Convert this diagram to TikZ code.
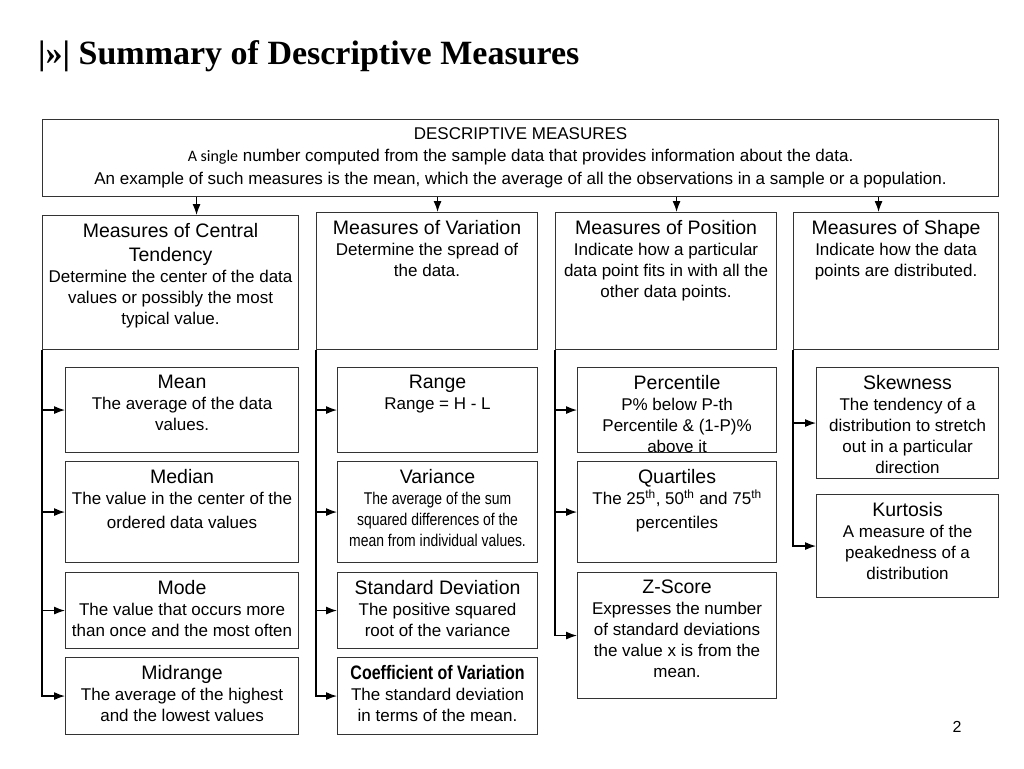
\documentclass[tikz,border=0pt]{standalone}
\usepackage{fontspec}
\setmainfont{Liberation Sans}
\newfontfamily\titlefont{Liberation Serif}
\newfontfamily\narrowfont[FakeStretch=0.82]{Liberation Sans}
\newfontfamily\calfont{Carlito}
\usetikzlibrary{positioning,arrows.meta}
\newcommand{\headsize}{\fontsize{19.5}{23}\selectfont}
\newcommand{\descsize}{\fontsize{17}{21}\selectfont}

\begin{document}
\begin{tikzpicture}[x=1pt,y=-1pt,
    boxnode/.style={draw=black!80, line width=1.1pt, rectangle, inner sep=0pt, anchor=north west},
    cell/.style 2 args={minimum width=#1pt, minimum height=#2pt},
    txt/.style={align=center, inner sep=0pt, font=\descsize},
    arr/.style={draw=black, line width=1.2pt, -{Latex[length=11pt,width=8pt]}}]
  \useasboundingbox (0,0) rectangle (1024,768);

  % title and page number
  \node[anchor=base west, inner sep=0pt, font=\titlefont\bfseries\fontsize{34}{37}\selectfont] (title) at (38,64) {|»| Summary of Descriptive Measures};
  \node[font=\fontsize{16}{18}\selectfont] (pnum) at (957,727) {2};

  % top box
  \node[boxnode, cell={956}{77}] (top) at (42,119) {};
  \node[txt, font=\fontsize{17}{22.5}\selectfont, below=8pt of top.north] (toptxt) {DESCRIPTIVE MEASURES\\{\calfont\fontsize{16}{18}\selectfont A single} number computed from the sample data that provides information about the data.\\An example of such measures is the mean, which the average of all the observations in a sample or a population.};

  % the four kinds of measures
  \node[boxnode, cell={256}{134}] (ct) at (42,215) {};
  \node[boxnode, cell={221}{137}] (va) at (316,212) {};
  \node[boxnode, cell={221}{137}] (po) at (555,212) {};
  \node[boxnode, cell={205}{137}] (sh) at (793,212) {};
  \node[txt, below=8pt of ct.north] (cttxt) {{\headsize Measures of Central}\\[3pt]{\headsize Tendency}\\Determine the center of the data\\values or possibly the most\\typical value.};
  \node[txt, below=8pt of va.north] (vatxt) {{\headsize Measures of Variation}\\Determine the spread of\\the data.};
  \node[txt, below=8pt of po.north] (potxt) {{\headsize Measures of Position}\\Indicate how a particular\\data point fits in with all the\\other data points.};
  \node[txt, below=8pt of sh.north] (shtxt) {{\headsize Measures of Shape}\\Indicate how the data\\points are distributed.};

  % central tendency
  \node[boxnode, cell={233}{85}] (mean) at (65,367) {};
  \node[boxnode, cell={233}{101}] (median) at (65,461) {};
  \node[boxnode, cell={233}{76}] (mode) at (65,572) {};
  \node[boxnode, cell={233}{77}] (midr) at (65,657) {};
  \node[txt, below=8pt of mean.north] (meantxt) {{\headsize Mean}\\The average of the data\\values.};
  \node[txt, below=8pt of median.north] (mediantxt) {{\headsize Median}\\The value in the center of the\\[3pt]ordered data values};
  \node[txt, below=8pt of mode.north] (modetxt) {{\headsize Mode}\\The value that occurs more\\than once and the most often};
  \node[txt, below=8pt of midr.north] (midrtxt) {{\headsize Midrange}\\The average of the highest\\and the lowest values};

  % variation
  \node[boxnode, cell={200}{85}] (range) at (337,367) {};
  \node[boxnode, cell={200}{101}] (vari) at (337,461) {};
  \node[boxnode, cell={200}{76}] (sdev) at (337,572) {};
  \node[boxnode, cell={200}{77}] (cv) at (337,657) {};
  \node[txt, below=8pt of range.north] (rangetxt) {{\headsize Range}\\Range = H - L};
  \node[txt, font=\narrowfont\descsize, below=8pt of vari.north] (varitxt) {{\rmfamily\headsize Variance}\\The average of the sum\\squared differences of the\\mean from individual values.};
  \node[txt, below=8pt of sdev.north] (sdevtxt) {{\headsize Standard Deviation}\\The positive squared\\root of the variance};
  \node[txt, below=8pt of cv.north] (cvtxt) {{\narrowfont\bfseries\headsize Coefficient of Variation}\\The standard deviation\\in terms of the mean.};

  % position
  \node[boxnode, cell={199}{85}] (perc) at (577,367) {};
  \node[boxnode, cell={199}{101}] (quart) at (577,461) {};
  \node[boxnode, cell={199}{126}] (zs) at (577,572) {};
  \node[txt, below=8pt of perc.north] (perctxt) {{\headsize Percentile}\\P\% below P-th\\Percentile \& (1-P)\%\\above it};
  \node[txt, below=8pt of quart.north] (quarttxt) {{\headsize Quartiles}\\The 25\textsuperscript{th}, 50\textsuperscript{th} and 75\textsuperscript{th}\\[3pt]percentiles};
  \node[txt, below=8pt of zs.north] (zstxt) {{\headsize Z-Score}\\Expresses the number\\of standard deviations\\the value x is from the\\mean.};

  % shape
  \node[boxnode, cell={182}{111}] (skew) at (816,367) {};
  \node[boxnode, cell={182}{103}] (kurt) at (816,494) {};
  \node[txt, below=8pt of skew.north] (skewtxt) {{\headsize Skewness}\\The tendency of a\\distribution to stretch\\out in a particular\\direction};
  \node[txt, below=8pt of kurt.north] (kurttxt) {{\headsize Kurtosis}\\A measure of the\\peakedness of a\\distribution};

  % arrows from the top box
  \coordinate (a1) at ([xshift=26pt]ct.north);
  \coordinate (a2) at ([xshift=10.5pt]va.north);
  \coordinate (a3) at ([xshift=10.5pt]po.north);
  \coordinate (a4) at ([xshift=-17.5pt]sh.north);
  \foreach \a in {a1,a2,a3,a4}
    \draw[arr] (top.south -| \a) -- (\a);

  % arrows down the left sides
  \foreach \c in {mean,median,mode,midr}
    \draw[arr] (ct.south west) |- (\c.west);
  \foreach \c in {range,vari,sdev,cv}
    \draw[arr] (va.south west) |- (\c.west);
  \foreach \c in {perc,quart,zs}
    \draw[arr] (po.south west) |- (\c.west);
  \foreach \c in {skew,kurt}
    \draw[arr] (sh.south west) |- (\c.west);
\end{tikzpicture}
\end{document}
